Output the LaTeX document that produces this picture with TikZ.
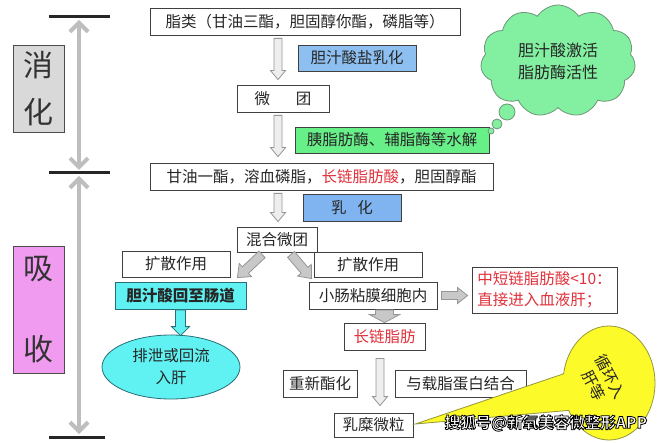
\documentclass[tikz,border=0pt]{standalone}
\usepackage{fontspec}
\setmainfont{Noto Sans CJK SC}
\usetikzlibrary{arrows.meta,calc,shapes.symbols,shapes.callouts,shapes.geometric}
\definecolor{boxline}{RGB}{64,64,64}
\definecolor{bluefill}{RGB}{141,192,240}
\definecolor{bluefilltwo}{RGB}{128,180,240}
\definecolor{greenfill}{RGB}{104,240,136}
\definecolor{cyanfill}{RGB}{96,242,242}
\definecolor{tealline}{RGB}{40,110,120}
\definecolor{redtxt}{RGB}{225,50,60}
\definecolor{cloudfill}{RGB}{130,240,160}
\definecolor{cloudline}{RGB}{110,150,120}
\definecolor{yelfill}{RGB}{252,250,40}
\definecolor{yelline}{RGB}{150,150,60}
\definecolor{greybox}{RGB}{217,217,217}
\definecolor{pinkbox}{RGB}{240,155,240}
\definecolor{arrline}{RGB}{150,150,150}
\definecolor{arrfill}{RGB}{238,238,238}
\definecolor{arrfilltwo}{RGB}{200,200,200}
\definecolor{vgray}{RGB}{190,190,190}
\newcommand\blkarrow[6][]{%
  \coordinate (bkA) at (#2);
  \coordinate (bkB) at (#3);
  \coordinate (bkH) at ($(bkB)!#6!(bkA)$);
  \draw[#1] ($(bkA)!#4!90:(bkB)$) -- ($(bkH)!#4!-90:(bkA)$) -- ($(bkH)!#5!-90:(bkA)$)
    -- (bkB) -- ($(bkH)!#5!90:(bkA)$) -- ($(bkH)!#4!90:(bkA)$) -- ($(bkA)!#4!-90:(bkB)$) -- cycle;}
\newcommand\outlinedtext[1]{\textcolor{white}{\special{pdf:literal direct 0 0 0 RG 2 Tr 0.8 w}#1\special{pdf:literal direct 0 Tr}}}
\begin{document}
\begin{tikzpicture}[x=1pt,y=-1pt,
  box/.style={draw=boxline, line width=0.8pt, fill=white, inner sep=0pt,
    font=\fontsize{15.5}{21}\selectfont, text=black!85},
  bluebox/.style={box, fill=bluefill},
  greenbox/.style={box, fill=greenfill},
  cyanbox/.style={box, fill=cyanfill, draw=tealline, font=\fontsize{15.5}{21}\selectfont\bfseries},
  hollowarr/.style={draw=arrline, fill=arrfill, line width=0.8pt, line join=miter},
  filledarr/.style={draw=arrline, fill=arrfilltwo, line width=0.8pt, line join=miter},
  cyanarr/.style={draw=tealline, fill=cyanfill, line width=0.8pt, line join=miter},
  sidebar/.style={line width=3pt, black!85},
  sidearr/.style={line width=4pt, vgray, {Straight Barb[length=9pt,width=18pt]}-{Straight Barb[length=9pt,width=18pt]}},
  sidebox/.style={draw=black!70, line width=0.8pt, inner sep=0pt, align=center, text=black!80}]
\useasboundingbox (0,0) rectangle (660,443);
\fill[white] (0,0) rectangle (660,443);

% ---------- left side ----------
\coordinate (bar1) at (79,17);
\coordinate (bar2) at (79,173);
\coordinate (bar3) at (79,437);
\draw[sidebar] (49,17) -- (110,17);
\draw[sidebar] (49,173) -- (110,173);
\draw[sidebar] (49,437) -- (105,437);
\draw[sidearr] ($(bar1)+(0,3)$) -- ($(bar2)+(0,-3)$);
\draw[sidearr] ($(bar2)+(0,3)$) -- ($(bar3)+(0,-3)$);
\node[sidebox, fill=greybox, minimum width=51, minimum height=87,
  font=\fontsize{30}{47}\selectfont] (xh) at (38.5,88.5) {消\\化};
\node[sidebox, fill=pinkbox, minimum width=51, minimum height=127,
  font=\fontsize{30}{81}\selectfont] (xs) at (38.5,309.5) {吸\\收};

% ---------- main boxes ----------
\coordinate (ax) at (278,0);
\coordinate (axb) at (380,0);
\node[box, minimum width=310, minimum height=27] (b1) at (305,21.5) {脂类（甘油三酯，胆固醇你酯，磷脂等）};
\node[bluebox, minimum width=118, minimum height=26] (emA) at (357,58) {胆汁酸盐乳化};
\node[box, minimum width=92, minimum height=27] (mic) at (283,98.5) {微\hspace{26pt}团};
\node[greenbox, minimum width=194, minimum height=26] (enz) at (392,140) {胰脂肪酶、辅脂酶等水解};
\node[box, minimum width=343, minimum height=27] (b2) at (321.5,176.5) {甘油一酯，溶血磷脂，\textcolor{redtxt}{长链脂肪酸}，胆固醇酯};
\node[box, fill=bluefilltwo, minimum width=98, minimum height=27] (emB) at (352,207.5) {乳\hspace{11pt}化};
\node[box, minimum width=80, minimum height=25] (mix) at (277,239.5) {混合微团};
\node[box, minimum width=108, minimum height=26] (difL) at (176,264) {扩散作用};
\node[box, minimum width=108, minimum height=25] (difR) at (368,264.5) {扩散作用};
\node[cyanbox, minimum width=131, minimum height=27] (back) at (180.5,295.5) {胆汁酸回至肠道};
\node[ellipse, draw=tealline, fill=cyanfill, line width=0.8pt, minimum width=138, minimum height=64,
  inner sep=0pt, align=center, font=\fontsize{15.5}{22}\selectfont, text=black!85] (ell) at (171,367) {排泄或回流\\入肝};
\node[box, minimum width=128, minimum height=27] (cell) at (373,295.5) {小肠粘膜细胞内};
\node[box, minimum width=145, minimum height=46, align=left, text=redtxt] (short) at (544.5,290)
  {中短链脂肪酸<10：\\直接进入血液肝；};
\node[box, minimum width=81, minimum height=27, text=redtxt] (long) at (384.5,336.5) {长链脂肪};
\node[box, minimum width=74, minimum height=27] (reest) at (320,383.5) {重新酯化};
\node[box, minimum width=131, minimum height=27] (apo) at (460.5,383.5) {与载脂蛋白结合};
\node[box, minimum width=79, minimum height=24] (chylo) at (373.5,425) {乳糜微粒};

% ---------- arrows ----------
\blkarrow[hollowarr]{$(b1.south -| ax)+(0,3)$}{$(mic.north -| ax)+(0,-5)$}{4pt}{7.5pt}{9pt}
\blkarrow[hollowarr]{$(mic.south -| ax)+(0,3)$}{$(b2.north -| ax)+(0,-6)$}{4pt}{7.5pt}{9pt}
\blkarrow[hollowarr]{$(b2.south -| ax)+(0,3)$}{$(mix.north -| ax)+(0,-5)$}{4pt}{7.5pt}{9pt}
\blkarrow[filledarr]{$(mix.south)+(-15,2)$}{$(back.north east)+(-9,-4)$}{4.5pt}{9pt}{11pt}
\blkarrow[filledarr]{$(mix.south)+(14,2)$}{$(cell.north west)+(3,-3)$}{4.5pt}{9pt}{11pt}
\blkarrow[filledarr]{$(cell.east)+(4,0)$}{$(cell.east -| short.west)+(-4,0)$}{4pt}{8pt}{10pt}
\blkarrow[filledarr]{$(cell.south -| long.north)+(0,0.5)$}{long.north}{9pt}{15pt}{8pt}
\blkarrow[hollowarr]{$(long.south -| axb)+(0,8)$}{$(chylo.north -| axb)+(0,-7)$}{4pt}{7.5pt}{9pt}
\blkarrow[cyanarr]{$(back.south)+(0,0.5)$}{$(ell.north -| back.south)+(0,1)$}{5pt}{9pt}{9pt}

% ---------- cloud ----------
\node[circle, draw=cloudline, fill=cloudfill, line width=0.8pt, minimum size=6, inner sep=0pt] (bub3) at (491,131) {};
\node[circle, draw=cloudline, fill=cloudfill, line width=0.8pt, minimum size=10, inner sep=0pt] (bub2) at (497,124) {};
\node[circle, draw=cloudline, fill=cloudfill, line width=0.8pt, minimum size=16, inner sep=0pt] (bub1) at (507,112) {};
\node[cloud, cloud puffs=11, cloud puff arc=115, aspect=1.4, draw=cloudline, fill=cloudfill, line width=0.8pt,
  minimum width=155, minimum height=112, inner sep=0pt, align=center,
  font=\fontsize{16}{22}\selectfont, text=black!85] (cloud) at (558,61) {胆汁酸激活\\脂肪酶活性};

% ---------- yellow callout ----------
\node[ellipse callout, draw=yelline, fill=yelfill, line width=0.8pt, minimum width=92, minimum height=114,
  inner sep=0pt, callout absolute pointer={($(chylo.east)+(2,-1)$)}, callout pointer arc=38] (yel) at (609,383) {};
\node[rotate=-62, align=center, font=\fontsize{15.5}{19}\selectfont, text=black!85, inner sep=0pt] (yelt) at (602,381) {循环入\\肝等};

% ---------- watermark ----------
\node[font=\fontsize{15.5}{16}\selectfont\bfseries, inner sep=0pt] (wm) at (546,423)
  {\outlinedtext{搜狐号@新氧美容微整形APP}};
\end{tikzpicture}
\end{document}
